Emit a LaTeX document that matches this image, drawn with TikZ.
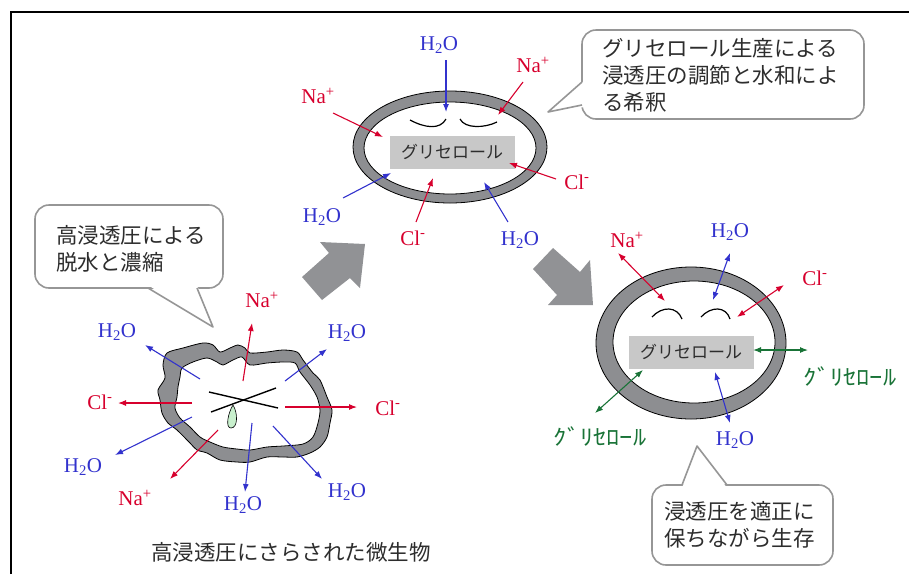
\documentclass[tikz,border=0pt]{standalone}
\usepackage{fontspec}
\setmainfont{Liberation Serif}
\newfontfamily\jp{Noto Sans CJK JP}
\usetikzlibrary{arrows.meta}

\definecolor{wallgray}{RGB}{141,142,145}
\definecolor{boxgray}{RGB}{200,200,200}
\definecolor{ionblue}{RGB}{50,50,205}
\definecolor{ionred}{RGB}{215,0,45}
\definecolor{glygreen}{RGB}{25,115,55}
\definecolor{balloon}{RGB}{150,150,150}
\definecolor{jptext}{RGB}{45,45,45}
\definecolor{arrowgray}{RGB}{145,146,149}
\definecolor{dropgreen}{RGB}{200,240,205}

\begin{document}
\begin{tikzpicture}[x=1pt,y=-1pt,
  tip/.tip={Latex[length=8pt,width=6pt]},
  flow/.style={line width=1.1pt,-tip},
  flowboth/.style={line width=1.1pt,tip-tip},
  ion/.style={inner sep=0pt,font=\fontsize{21}{21}\selectfont},
  water/.style={ion,text=ionblue},
  salt/.style={ion,text=ionred},
  glyc/.style={inner sep=0pt,text=glygreen,font=\jp\fontsize{22}{22}\selectfont},
  wall/.style={draw=black,line width=0.8pt,fill=wallgray},
  solute/.style={fill=boxgray,inner sep=0pt,minimum width=125pt,minimum height=33pt,
    text=jptext,font=\jp\fontsize{17}{17}\selectfont},
  balloonline/.style={draw=balloon,line width=1.6pt},
  balloontext/.style={align=left,inner sep=0pt,anchor=west,text=jptext,
    font=\jp\fontsize{21.5}{27}\selectfont},
  blockarrow/.style={fill=arrowgray},
]
\useasboundingbox (0,0) rectangle (909,574);

% frame
\draw[line width=1.1pt] (11,574) -- (11,12) -- (909,12);

% ---------- balloons ----------
% upper right
\draw[balloonline,fill=white,rounded corners=14pt] (582,30) rectangle (864,119);
\fill[white] (548,112) -- (585,80) -- (585,107) -- cycle;
\draw[balloonline,line join=round] (582,82) -- (548,112) -- (582,105);
\node[balloontext] (noteA) at (602,75.5)
  {グリセロール生産による\\浸透圧の調節と水和によ\\る希釈};

% left
\draw[balloonline,fill=white,rounded corners=14pt] (35,205) rectangle (223,288);
\fill[white] (148,285) -- (213,327) -- (197,285) -- cycle;
\draw[balloonline,line join=round] (148,288) -- (213,327) -- (197,288);
\node[balloontext] (noteB) at (56,249) {高浸透圧による\\脱水と濃縮};

% lower right
\draw[balloonline,fill=white,rounded corners=14pt] (652,485) rectangle (833,565);
\fill[white] (682,488) -- (697,446) -- (727,488) -- cycle;
\draw[balloonline,line join=round] (682,485) -- (697,446) -- (727,485);
\node[balloontext] (noteC) at (664,525) {浸透圧を適正に\\保ちながら生存};

% ---------- block arrows ----------
\fill[blockarrow] (302,277) -- (329,253) -- (320,242) -- (365,244) -- (360,288)
  -- (350,278) -- (322,300) -- cycle;
\fill[blockarrow] (533,269) -- (553,248) -- (580,272) -- (590,260) -- (593,305)
  -- (548,305) -- (557,295) -- cycle;

% ---------- shrunken cell ----------
\draw[wall] plot[smooth cycle,tension=0.5] coordinates {
  (163,365) (167,353) (183,348) (203,343) (213,345) (220,352) (230,348) (238,345)
  (245,348) (250,353) (267,352) (283,350) (297,352) (303,360) (313,373) (320,380)
  (327,397) (332,410) (330,423) (327,437) (320,447) (310,453) (297,457) (283,457)
  (267,457) (250,462) (237,462) (220,460) (207,453) (197,450) (190,443) (177,430)
  (168,423) (162,413) (160,400) (158,390) (165,378)};
\draw[line width=0.8pt,fill=white] plot[smooth cycle,tension=0.5] coordinates {
  (182,368) (193,362) (207,358) (217,362) (223,365) (233,360) (242,357) (250,365)
  (267,363) (283,362) (295,363) (300,372) (310,385) (317,397) (320,410) (318,423)
  (313,437) (303,444) (283,446) (267,447) (250,450) (237,449) (223,447) (210,442)
  (200,437) (190,427) (180,418) (175,408) (177,397) (178,387) (180,377)};
\draw[line width=1.4pt] (209,392) -- (278,408);
\draw[line width=1.4pt] (211,412) -- (276,388);
\draw[fill=dropgreen,line width=0.6pt] (233,405) .. controls (238,413) and (238,428) .. (231,428)
  .. controls (225,428) and (228,413) .. (233,405);

\coordinate (b1s) at (200,379); \coordinate (b1e) at (145,345);
\coordinate (b2s) at (243,381); \coordinate (b2e) at (252,323);
\coordinate (b3s) at (285,381); \coordinate (b3e) at (327,349);
\coordinate (b4s) at (192,403); \coordinate (b4e) at (118,403);
\coordinate (b5s) at (285,407); \coordinate (b5e) at (357,407);
\coordinate (b6s) at (192,417); \coordinate (b6e) at (115,455);
\coordinate (b7s) at (218,430); \coordinate (b7e) at (170,479);
\coordinate (b8s) at (252,423); \coordinate (b8e) at (245,492);
\coordinate (b9s) at (273,426); \coordinate (b9e) at (322,479);
\draw[flow,ionblue] (b1s) -- (b1e);
\draw[flow,ionred]  (b2s) -- (b2e);
\draw[flow,ionblue] (b3s) -- (b3e);
\draw[flow,ionred]  (b4s) -- (b4e);
\draw[flow,ionred]  (b5s) -- (b5e);
\draw[flow,ionblue] (b6s) -- (b6e);
\draw[flow,ionred]  (b7s) -- (b7e);
\draw[flow,ionblue] (b8s) -- (b8e);
\draw[flow,ionblue] (b9s) -- (b9e);
\node[water] (bw1) at (117,332) {H\textsubscript{2}O};
\node[salt]  (bn1) at (262,300) {Na\textsuperscript{+}};
\node[water] (bw2) at (347,333) {H\textsubscript{2}O};
\node[salt]  (bc1) at (100,402) {Cl\textsuperscript{-}};
\node[salt]  (bc2) at (388,408) {Cl\textsuperscript{-}};
\node[water] (bw3) at (83,467)  {H\textsubscript{2}O};
\node[salt]  (bn2) at (135,498) {Na\textsuperscript{+}};
\node[water] (bw4) at (243,505) {H\textsubscript{2}O};
\node[water] (bw5) at (347,492) {H\textsubscript{2}O};

\node[text=jptext,font=\jp\fontsize{21.5}{21.5}\selectfont,inner sep=0pt] (caption)
  at (291,552) {高浸透圧にさらされた微生物};

% ---------- recovering cell ----------
\draw[wall] (450,147) ellipse [x radius=97pt,y radius=56pt];
\draw[line width=0.8pt,fill=white] (450,148) ellipse [x radius=86pt,y radius=46pt];
\node[solute] (glyA) at (452,152) {グリセロール};
\draw[line width=1.2pt] (410,120) .. controls (425,128) and (440,130) .. (446,119);
\draw[line width=1.2pt] (460,119) .. controls (465,129) and (485,128) .. (497,122);

\coordinate (t1s) at (446,60);  \coordinate (t1e) at (446,112);
\coordinate (t2s) at (523,82);  \coordinate (t2e) at (498,115);
\coordinate (t3s) at (333,113); \coordinate (t3e) at (383,137);
\coordinate (t4s) at (556,179); \coordinate (t4e) at (509,163);
\coordinate (t5s) at (343,198); \coordinate (t5e) at (391,173);
\coordinate (t6s) at (416,222); \coordinate (t6e) at (433,178);
\coordinate (t7s) at (508,222); \coordinate (t7e) at (484,182);
\draw[flow,ionblue] (t1s) -- (t1e);
\draw[flow,ionred]  (t2s) -- (t2e);
\draw[flow,ionred]  (t3s) -- (t3e);
\draw[flow,ionred]  (t4s) -- (t4e);
\draw[flow,ionblue] (t5s) -- (t5e);
\draw[flow,ionred]  (t6s) -- (t6e);
\draw[flow,ionblue] (t7s) -- (t7e);
\node[water] (tw1) at (439,45)  {H\textsubscript{2}O};
\node[salt]  (tn1) at (533,65)  {Na\textsuperscript{+}};
\node[salt]  (tn2) at (318,96)  {Na\textsuperscript{+}};
\node[salt]  (tc1) at (577,182) {Cl\textsuperscript{-}};
\node[water] (tw2) at (322,217) {H\textsubscript{2}O};
\node[salt]  (tc2) at (413,238) {Cl\textsuperscript{-}};
\node[water] (tw3) at (520,240) {H\textsubscript{2}O};

% ---------- balanced cell ----------
\draw[wall] (691,343) ellipse [x radius=95pt,y radius=76pt];
\draw[line width=0.8pt,fill=white] (694,342) ellipse [x radius=81pt,y radius=61pt];
\node[solute] (glyB) at (691,352) {グリセロール};
\draw[line width=1.2pt] (652,317) .. controls (662,306) and (677,306) .. (682,319);
\draw[line width=1.2pt] (701,317) .. controls (711,306) and (726,306) .. (730,319);

\coordinate (r1s) at (618,253); \coordinate (r1e) at (665,301);
\coordinate (r2s) at (730,253); \coordinate (r2e) at (713,300);
\coordinate (r3s) at (784,285); \coordinate (r3e) at (737,317);
\coordinate (r4s) at (753,350); \coordinate (r4e) at (808,350);
\coordinate (r5s) at (643,370); \coordinate (r5e) at (595,413);
\coordinate (r6s) at (715,372); \coordinate (r6e) at (730,423);
\draw[flowboth,ionred]    (r1s) -- (r1e);
\draw[flowboth,ionblue]   (r2s) -- (r2e);
\draw[flowboth,ionred]    (r3s) -- (r3e);
\draw[flowboth,glygreen]  (r4s) -- (r4e);
\draw[flowboth,glygreen]  (r5s) -- (r5e);
\draw[flowboth,ionblue]   (r6s) -- (r6e);
\node[salt]  (rn1) at (627,240) {Na\textsuperscript{+}};
\node[water] (rw1) at (730,232) {H\textsubscript{2}O};
\node[salt]  (rc1) at (815,278) {Cl\textsuperscript{-}};
\node[glyc]  (rg1) at (850,377) {\scalebox{1.2}[1]{ｸﾞﾘｾﾛｰﾙ}};
\node[glyc]  (rg2) at (600,437) {\scalebox{1.2}[1]{ｸﾞﾘｾﾛｰﾙ}};
\node[water] (rw2) at (735,440) {H\textsubscript{2}O};
\end{tikzpicture}
\end{document}
